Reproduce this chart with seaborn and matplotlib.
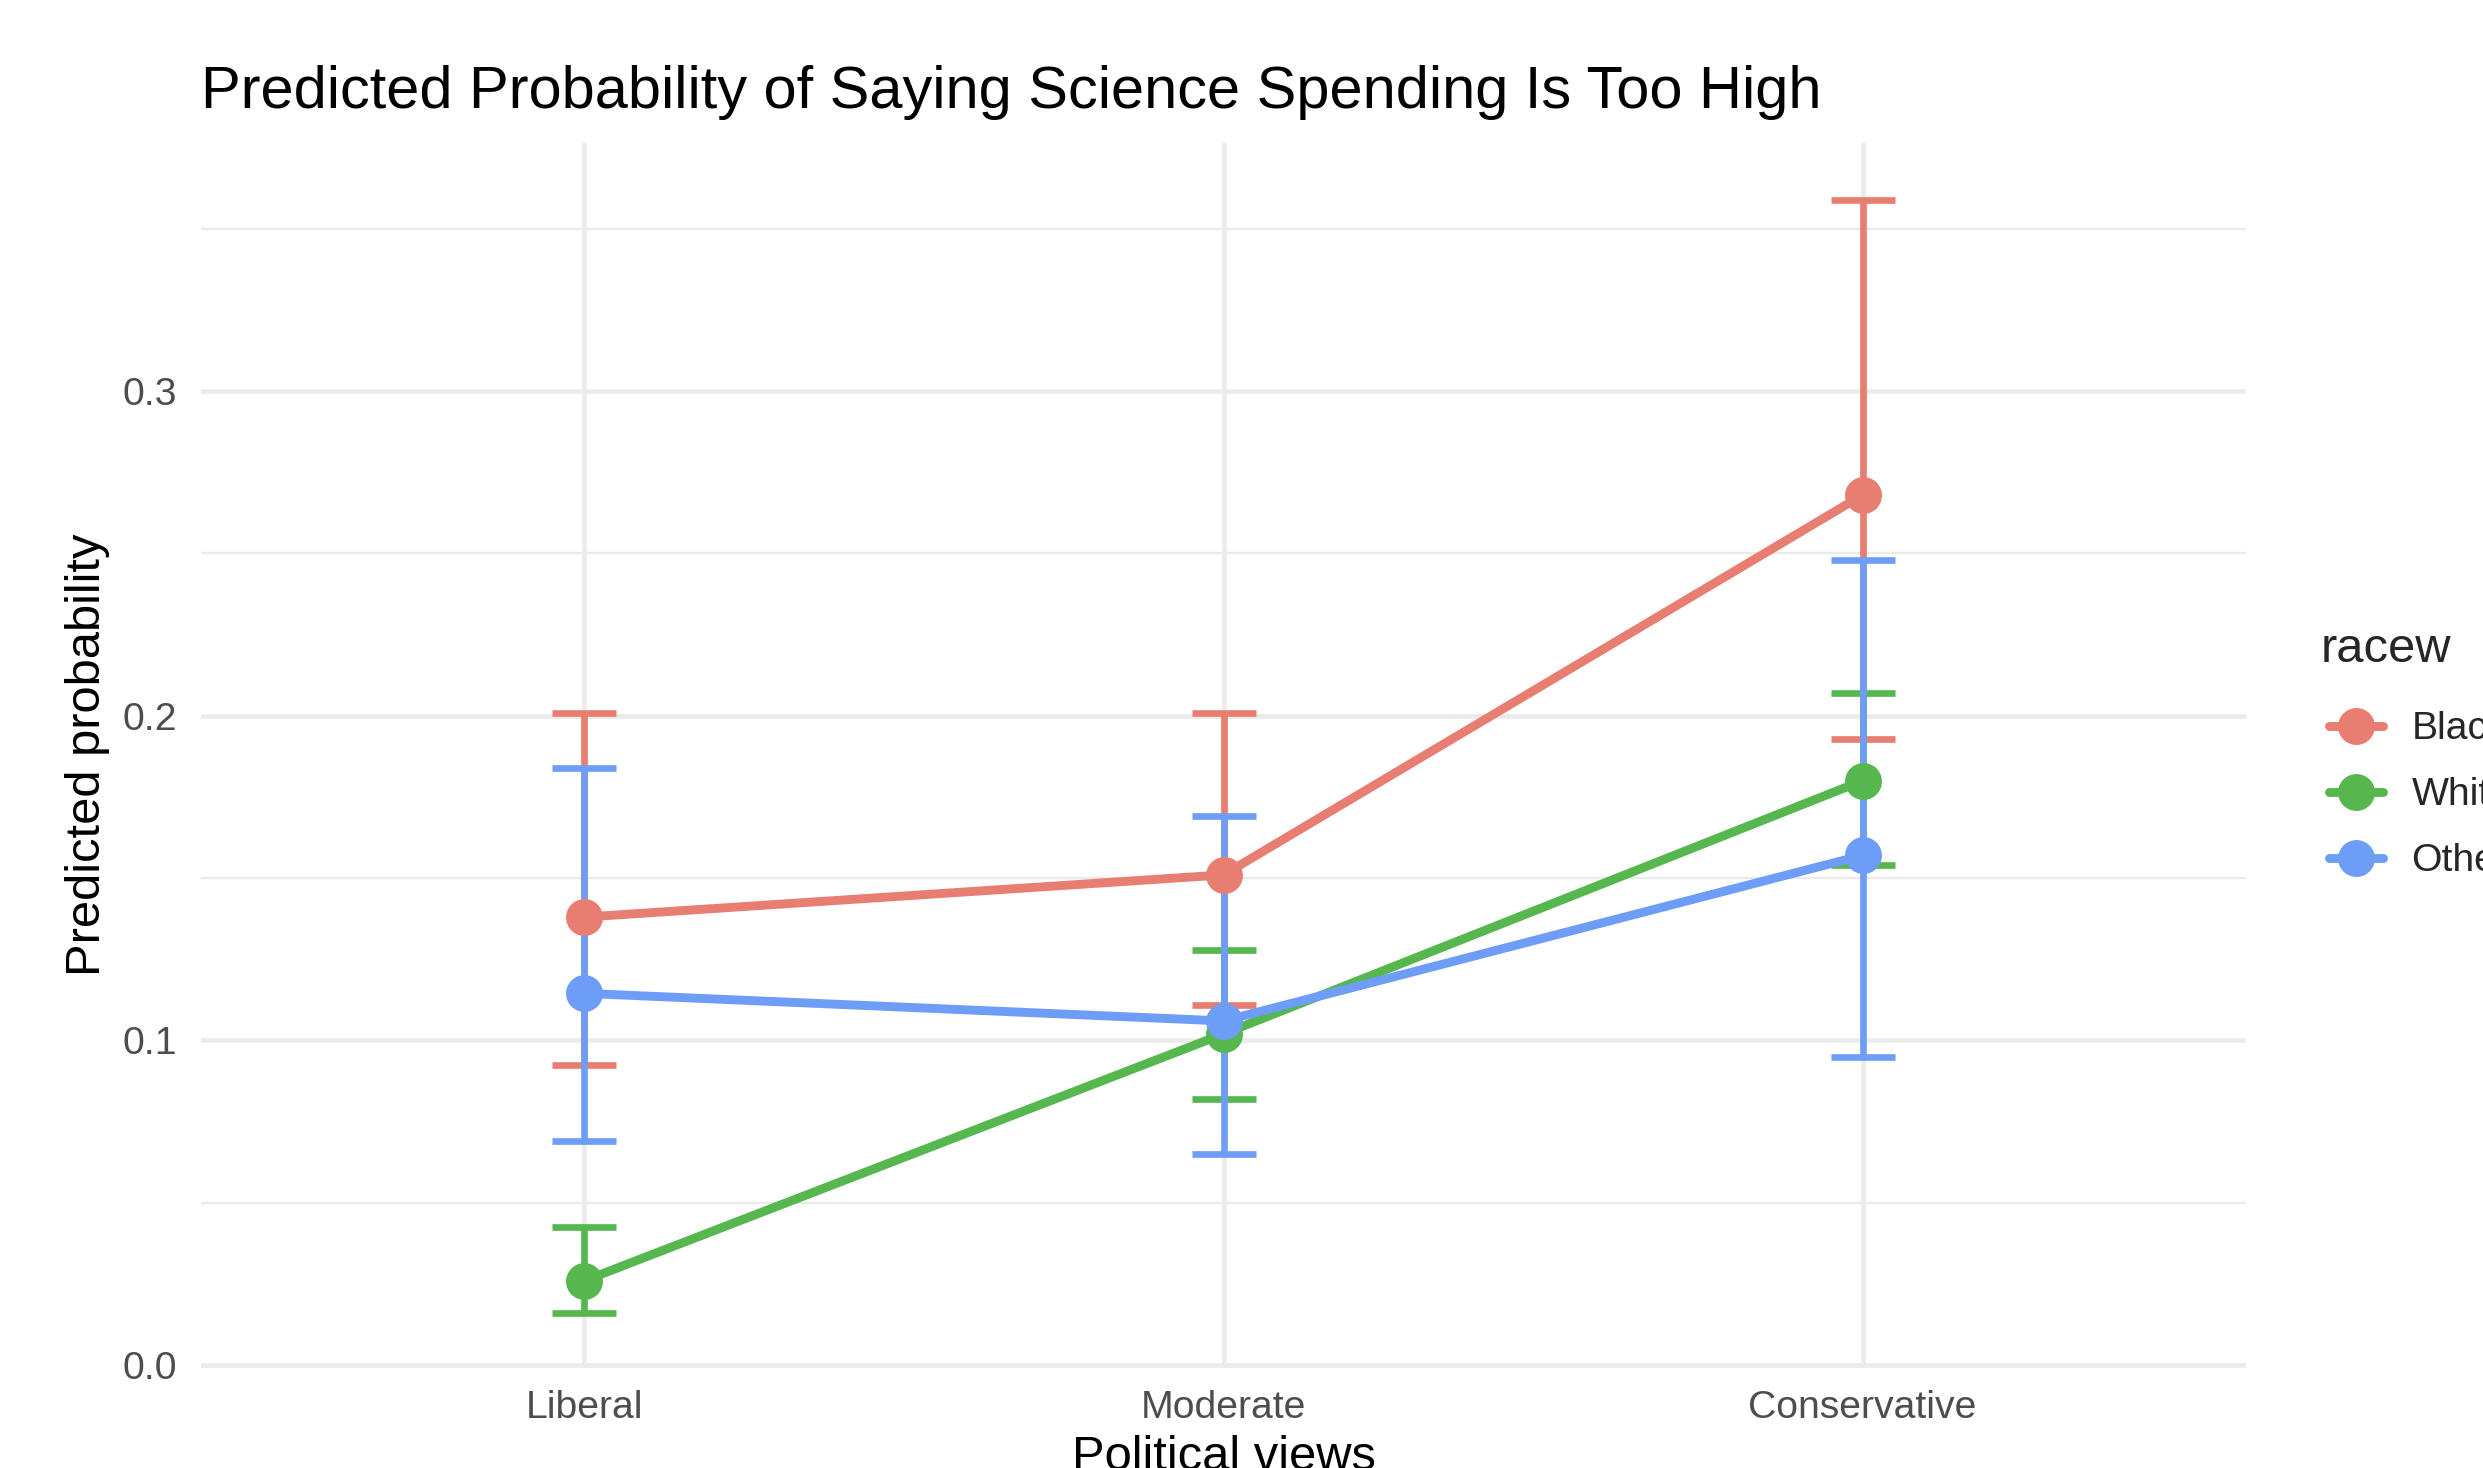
import numpy as np
import pandas as pd
import matplotlib
matplotlib.use("Agg")
import matplotlib.pyplot as plt
from matplotlib.ticker import FixedLocator
import seaborn as sns

# ---- data ----
views = ["Liberal", "Moderate", "Conservative"]
races = ["Black", "White", "Other"]

black_prob = [0.138, 0.151, 0.268]
black_lo = [0.0925, 0.111, 0.193]
black_hi = [0.201, 0.201, 0.359]

white_prob = [0.026, 0.102, 0.180]
white_lo = [0.016, 0.082, 0.154]
white_hi = [0.0425, 0.128, 0.207]

other_prob = [0.1145, 0.106, 0.157]
other_lo = [0.069, 0.065, 0.095]
other_hi = [0.184, 0.169, 0.248]

race_colors = ["#E87D72", "#55B74D", "#6D9DF7"]

yticks = [0.0, 0.1, 0.2, 0.3]
yminor = [0.05, 0.15, 0.25, 0.35]

title = "Predicted Probability of Saying Science Spending Is Too High"
xlabel = "Political views"
ylabel = "Predicted probability"
legend_title = "racew"

df = pd.DataFrame({
    "polviews": views * 3,
    "racew": [r for r in races for _ in views],
    "prob": black_prob + white_prob + other_prob,
    "lo": black_lo + white_lo + other_lo,
    "hi": black_hi + white_hi + other_hi,
})

# ---- style ----
sns.set_theme(style="white")
plt.rcParams["font.family"] = ["Liberation Sans", "DejaVu Sans"]

W, H, DPI = 2483, 1468, 320
fig = plt.figure(figsize=(W / DPI, H / DPI), dpi=DPI)
ax = fig.add_axes([201 / W, 1 - 1368 / H, (2246 - 201) / W, (1368 - 142.5) / H])

# error bars (under the lines)
order_idx = {v: i for i, v in enumerate(views)}
for race, col in zip(races, race_colors):
    sub = df[df["racew"] == race]
    xs = [order_idx[v] for v in sub["polviews"]]
    ax.errorbar(xs, sub["prob"],
                yerr=[sub["prob"] - sub["lo"], sub["hi"] - sub["prob"]],
                fmt="none", ecolor=col, elinewidth=1.5, capsize=7.2,
                capthick=1.5, zorder=1.5)

sns.pointplot(data=df, x="polviews", y="prob", hue="racew",
              order=views, hue_order=races, palette=race_colors,
              errorbar=None, markers="o", linestyles="-",
              markersize=6.8, linewidth=2.0, ax=ax)

ax.set_xlim(-0.6, 2.6)
ax.set_ylim(-0.0009, 0.3766)
ax.set_yticks(yticks)
ax.set_yticklabels([f"{t:.1f}" for t in yticks])
ax.yaxis.set_minor_locator(FixedLocator(yminor))

ax.set_axisbelow(True)
ax.grid(which="major", axis="both", color="#EBEBEB", linewidth=1.05)
ax.grid(which="minor", axis="y", color="#EBEBEB", linewidth=0.55)
for s in ax.spines.values():
    s.set_visible(False)

ax.tick_params(axis="both", which="both", length=0)
ax.tick_params(axis="x", labelsize=8.8, labelcolor="#4D4D4D", pad=4.9)
ax.tick_params(axis="y", labelsize=8.8, labelcolor="#4D4D4D", pad=5.4)

ax.set_xlabel(xlabel, fontsize=11, color="black")
ax.set_ylabel(ylabel, fontsize=11, color="black")
ax.xaxis.set_label_coords(0.5, (1368 - 1435) / (1368 - 142.5))
ax.yaxis.set_label_coords((110 - 201) / (2246 - 201), 0.5)

fig.text(201 / W, 1 - 108 / H, title, fontsize=13.4, ha="left",
         va="baseline", color="black")

sns.move_legend(ax, loc="upper left",
                bbox_to_anchor=(2321 / W, 1 - 627 / H),
                bbox_transform=fig.transFigure,
                frameon=False, title=legend_title, title_fontsize=11,
                fontsize=8.8, handlelength=1.39, handletextpad=0.72,
                labelspacing=0.765, borderpad=0, borderaxespad=0,
                alignment="left")
leg = ax.get_legend()
leg._legend_handle_box.pad = 1.8
leg._legend_box.sep = 7.06

fig.savefig("out.png", dpi=DPI, facecolor="white")
